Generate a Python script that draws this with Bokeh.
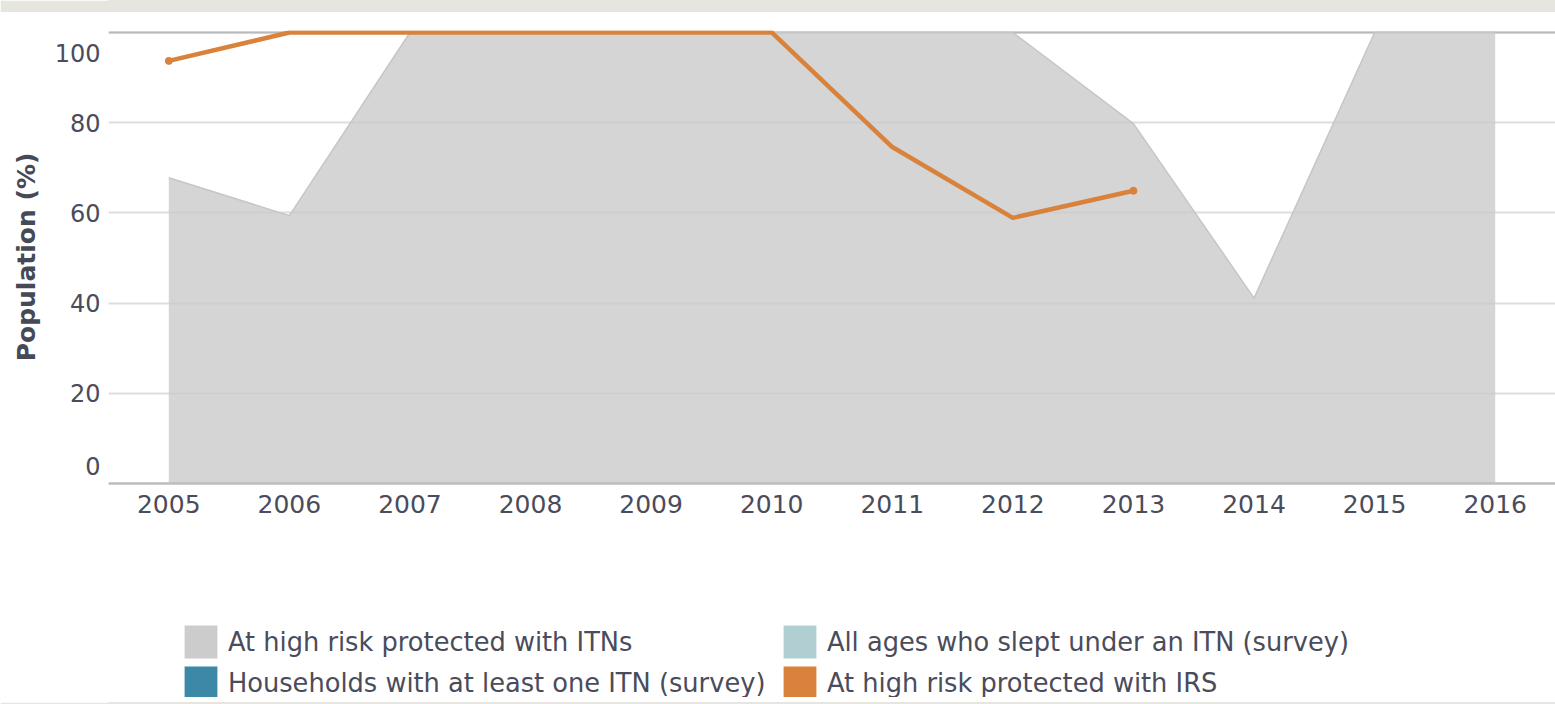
from bokeh.plotting import figure
from bokeh.models import Range1d, FixedTicker, Legend, LegendItem, Span
from bokeh.layouts import column
from bokeh.embed import file_html
from bokeh.resources import INLINE

# ---- data ----
years = [2005, 2006, 2007, 2008, 2009, 2010, 2011, 2012, 2013, 2014, 2015, 2016]
itn_protected = [67.8, 59.4, 100, 100, 100, 100, 100, 100, 79.8, 41.1, 100, 100]
irs_years = [2005, 2006, 2007, 2008, 2009, 2010, 2011, 2012, 2013]
irs_protected = [93.7, 100, 100, 100, 100, 100, 74.6, 58.9, 64.9]
y_ticks = [0, 20, 40, 60, 80, 100]
y_tick_labels = ["0", "20", "40", "60", "80", "100"]
x_tick_labels = [str(y) for y in years]
legend_col1 = ["At high risk protected with ITNs", "Households with at least one ITN (survey)"]
legend_col1_colors = ["#cccccc", "#3b88a7"]
legend_col2 = ["All ages who slept under an ITN (survey)", "At high risk protected with IRS"]
legend_col2_colors = ["#b1cfd2", "#d9823b"]

FONT = "DejaVu Sans"
TEXT = "#4a4c5b"
ORANGE = "#d9823b"
BAND = "#e6e5e0"
W = 1555
LEFT = 108
NAN = float("nan")

x_start = years[0] - 0.5
x_end = years[-1] + 0.5
FRAME_H = 453
y_end = 100.44
px_per_unit = FRAME_H / y_end
# end labels sit inside the range (style offsets in pixels)
label_shift_px = {0: 17.7, 100: -20.6}
y_label_pos = [t + label_shift_px.get(t, 0) / px_per_unit for t in y_ticks]


def band_fig(h):
    b = figure(width=W, height=h, min_border=0, min_border_left=LEFT,
               toolbar_location=None, output_backend="svg",
               x_axis_location=None, y_axis_location=None,
               x_range=Range1d(0, 1), y_range=Range1d(0, 1),
               background_fill_color=BAND, border_fill_color=BAND)
    b.outline_line_color = BAND
    b.outline_line_width = 2
    b.grid.visible = False
    return b


top_band = band_fig(12)

# ---- main chart ----
p = figure(
    width=W, height=18 + FRAME_H + 117,
    x_range=Range1d(x_start, x_end), y_range=Range1d(0, y_end),
    output_backend="svg", toolbar_location=None,
    min_border_left=LEFT, min_border_right=0,
    min_border_top=18, min_border_bottom=117,
)
p.outline_line_color = None
p.background_fill_color = "white"
p.border_fill_color = "white"

# grid
p.xgrid.visible = False
p.ygrid.ticker = FixedTicker(ticks=y_ticks)
p.ygrid.grid_line_color = "#dddddd"
p.ygrid.grid_line_width = 2
p.add_layout(Span(location=y_ticks[-1], dimension="width", line_color="#b9b9b9",
                  line_width=2, level="underlay"))

# area
p.varea(x=years, y1=0, y2=itn_protected, fill_color="#cbcbcb", fill_alpha=0.8)
p.line(x=years, y=itn_protected, line_color="#c6c6c6", line_width=1.5)

# IRS line
p.line(x=irs_years, y=irs_protected, line_color=ORANGE, line_width=4.5,
       line_join="round", line_cap="round")
p.scatter(x=[irs_years[0], irs_years[-1]], y=[irs_protected[0], irs_protected[-1]],
          size=7, color=ORANGE)

# axes
xa = p.xaxis[0]
xa.ticker = FixedTicker(ticks=years)
xa.major_label_overrides = {y: l for y, l in zip(years, x_tick_labels)}
xa.axis_line_color = "#bcbcbc"
xa.axis_line_width = 2.5
xa.major_tick_line_color = None
xa.minor_tick_line_color = None
xa.major_tick_out = 0
xa.major_tick_in = 0
xa.minor_tick_out = 0
xa.major_label_standoff = 11
xa.major_label_text_font = FONT
xa.major_label_text_font_size = "25px"
xa.major_label_text_color = TEXT

ya = p.yaxis[0]
ya.ticker = FixedTicker(ticks=y_label_pos)
ya.major_label_overrides = {pos: lab for pos, lab in zip(y_label_pos, y_tick_labels)}
ya.axis_line_color = None
ya.major_tick_line_color = None
ya.minor_tick_line_color = None
ya.major_tick_out = 0
ya.major_tick_in = 0
ya.minor_tick_out = 0
ya.major_label_standoff = 8
ya.major_label_text_font = FONT
ya.major_label_text_font_size = "24px"
ya.major_label_text_color = TEXT
ya.axis_label = "Population (%)"
ya.axis_label_text_font = FONT
ya.axis_label_text_font_style = "bold"
ya.axis_label_text_font_size = "25px"
ya.axis_label_text_color = "#464956"
ya.axis_label_standoff = 11

# ---- legend strip (frame aligned with the chart frame) ----
leg = figure(width=W, height=97, min_border=0, min_border_left=LEFT,
             toolbar_location=None, output_backend="svg",
             x_axis_location=None, y_axis_location=None,
             x_range=Range1d(0, 1), y_range=Range1d(0, 1))
leg.outline_line_color = None
leg.grid.visible = False

GLYPH = 41          # bokeh insets area swatches by 10% per side -> ~33px squares
INSET = GLYPH * 0.1


def make_legend(labels, colors, x):
    items = []
    for lab, col in zip(labels, colors):
        r = leg.quad(left=[NAN], right=[NAN], top=[NAN], bottom=[NAN],
                     fill_color=col, line_color=None)
        items.append(LegendItem(label=lab, renderers=[r]))
    lg = Legend(
        items=items, location=(x - LEFT - INSET, -6), orientation="vertical",
        glyph_width=GLYPH, glyph_height=GLYPH, label_height=GLYPH, label_standoff=7,
        spacing=-1, padding=0, margin=0, border_line_color=None,
        background_fill_alpha=0, label_text_font=FONT, label_text_font_size="25.7px",
        label_text_color=TEXT,
    )
    leg.add_layout(lg)


make_legend(legend_col1, legend_col1_colors, 184)
make_legend(legend_col2, legend_col2_colors, 783)

bottom_band = band_fig(7)

layout = column(top_band, p, leg, bottom_band, spacing=0)

open("out.html", "w").write(file_html(layout, INLINE))
